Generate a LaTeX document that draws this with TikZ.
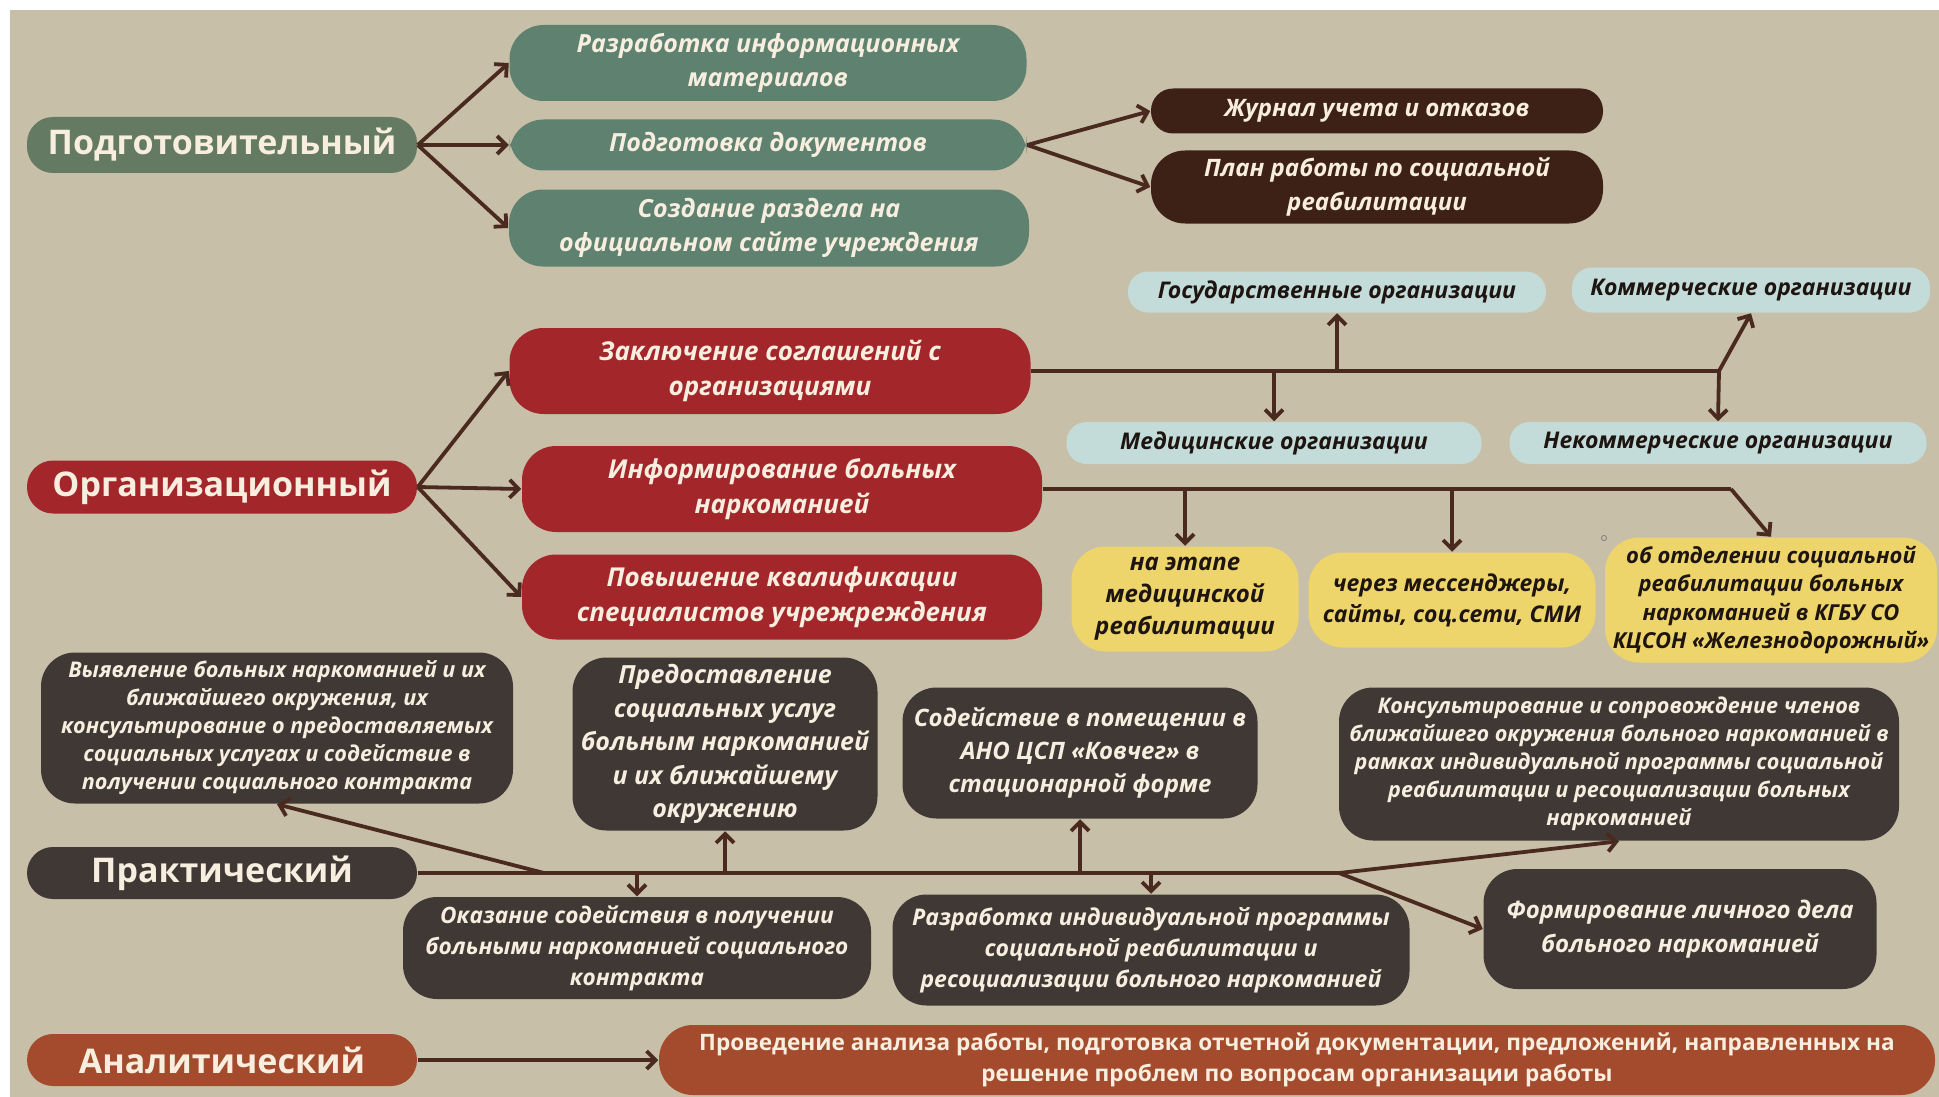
\documentclass[tikz,border=0pt]{standalone}
\usepackage{fontspec}
\setmainfont{Open Sans}
\usetikzlibrary{arrows.meta}

\definecolor{bgbeige}{HTML}{C8BFA9}
\definecolor{hdgreen}{HTML}{657A62}
\definecolor{subgreen}{HTML}{5E8170}
\definecolor{darkbrown}{HTML}{3D2116}
\definecolor{orgred}{HTML}{A3272A}
\definecolor{lightblue}{HTML}{C3DCDA}
\definecolor{softyellow}{HTML}{EDD56B}
\definecolor{darkgray}{HTML}{3F3835}
\definecolor{rust}{HTML}{A44B2D}
\definecolor{arrowbrown}{HTML}{4A2A1E}
\definecolor{cream}{HTML}{F7EEDF}
\definecolor{inkdark}{HTML}{1E1410}

\tikzset{every picture/.style={line width=0.75pt}}
\tikzset{
  sz/.style 2 args={minimum width=#1*0.5pt,minimum height=#2*0.5pt},
  txt/.style 2 args={font=\bfseries\itshape\fontsize{#1}{#2}\selectfont},
  base/.style={inner sep=0pt,align=center,text=cream},
  stage/.style={base,rounded corners=13pt,font=\bfseries\fontsize{17}{21}\selectfont},
  item/.style={base,rounded corners=17pt},
  kind/.style={base,rounded corners=10pt,text=inkdark,txt={11.5}{14}},
  way/.style={base,rounded corners=17pt,text=inkdark},
  ln/.style={draw=arrowbrown,line width=1.9pt},
  arr/.style={ln,-{Straight Barb[length=4.5pt,width=9pt]}},
}

\begin{document}
\begin{tikzpicture}[x=0.5pt,y=0.5pt,yscale=-1,xscale=1]
\useasboundingbox (0,0) rectangle (1939,1097);
\fill[white] (0,0) rectangle (1939,1097);
\fill[bgbeige] (10,10) rectangle (1939,1097);

% Stage 1
\node[stage,fill=hdgreen,sz={390}{56}] (prep) at (222,145) {Подготовительный};
\node[item,fill=subgreen,sz={517}{76},txt={12.5}{17.3}] (infomat) at (768,63) {Разработка информационных\\материалов};
\node[item,fill=subgreen,sz={517}{51},txt={12.5}{17.3}] (docs) at (768,145) {Подготовка документов};
\node[item,fill=subgreen,sz={520}{77},txt={12.5}{17.3}] (site) at (769,228) {Создание раздела на\\официальном сайте учреждения};
\node[item,fill=darkbrown,rounded corners=11pt,sz={452}{45},txt={12}{16.7}] (journal) at (1377,111) {Журнал учета и отказов};
\node[item,fill=darkbrown,sz={452}{73},txt={12}{16.7}] (plan) at (1377,187) {План работы по социальной\\реабилитации};

%Straight Lines
\draw[arr] (prep.east) -- (infomat.west);
\draw[arr] (prep.east) -- (docs.west);
\draw[arr] (prep.east) -- (site.west);
\draw[arr] (docs.east) -- (journal.west);
\draw[arr] (docs.east) -- (plan.west);

% Stage 2
\node[stage,fill=orgred,sz={390}{53}] (org) at (222,487) {Организационный};
\node[item,fill=orgred,sz={521}{86},txt={13}{17.3}] (agree) at (770,371) {Заключение соглашений с\\организациями};
\node[item,fill=orgred,sz={520}{86},txt={13}{17.3}] (inform) at (782,489) {Информирование больных\\наркоманией};
\node[item,fill=orgred,sz={520}{85},txt={13}{17.3}] (qual) at (782,597) {Повышение квалификации\\специалистов учрежреждения};

\node[kind,fill=lightblue,sz={418}{41}] (gos) at (1337,292) {Государственные организации};
\node[kind,fill=lightblue,sz={358}{45}] (kom) at (1751,290) {Коммерческие организации};
\node[kind,fill=lightblue,sz={415}{42}] (med) at (1274,443) {Медицинские организации};
\node[kind,fill=lightblue,sz={417}{42}] (nekom) at (1718,443) {Некоммерческие организации};

\node[way,fill=softyellow,sz={227}{105},txt={12}{16}] (stage) at (1185,599) {на этапе\\медицинской\\реабилитации};
\node[way,fill=softyellow,sz={287}{95},txt={11.5}{15.5}] (media) at (1452,600) {через мессенджеры,\\сайты, соц.сети, СМИ};
\node[way,fill=softyellow,sz={332}{125},txt={11}{14.2}] (dept) at (1771,600) {об отделении социальной\\реабилитации больных\\наркоманией в КГБУ СО\\КЦСОН «Железнодорожный»};

\coordinate (aj) at (1719,371);
\coordinate (ij) at (1731,489);

%Straight Lines
\draw[arr] (org.east) -- (agree.west);
\draw[arr] (org.east) -- (inform.west);
\draw[arr] (org.east) -- (qual.west);
\draw[ln] (agree.east) -- (aj);
\draw[arr] (gos.south |- aj) -- (gos.south);
\draw[arr] (med.north |- aj) -- (med.north);
\draw[arr] (aj) -- (nekom.north);
\draw[arr] (aj) -- (kom.south);
\draw[ln] (inform.east) -- (ij);
\draw[arr] (stage.north |- ij) -- (stage.north);
\draw[arr] (media.north |- ij) -- (media.north);
\draw[arr] (ij) -- (dept.north);
\draw[gray,line width=0.4pt] (1604,538) circle[radius=1.3pt];

% Stage 3
\node[stage,fill=darkgray,sz={390}{52}] (prac) at (222,873) {Практический};
\node[item,fill=darkgray,sz={472}{151},txt={10.8}{14}] (detect) at (277,728) {Выявление больных наркоманией и их\\ближайшего окружения, их\\консультирование о предоставляемых\\социальных услугах и содействие в\\получении социального контракта};
\node[item,fill=darkgray,sz={305}{173},txt={12.5}{16.7}] (services) at (725,744) {Предоставление\\социальных услуг\\больным наркоманией\\и их ближайшему\\окружению};
\node[item,fill=darkgray,sz={468}{102},txt={11.3}{15.5}] (contract) at (637,948) {Оказание содействия в получении\\больными наркоманией социального\\контракта};
\node[item,fill=darkgray,sz={355}{131},txt={12}{16.7}] (ark) at (1080,753) {Содействие в помещении в\\АНО ЦСП «Ковчег» в\\стационарной форме};
\node[item,fill=darkgray,sz={517}{111},txt={11.5}{15.5}] (program) at (1151,950) {Разработка индивидуальной программы\\социальной реабилитации и\\ресоциализации больного наркоманией};
\node[item,fill=darkgray,sz={560}{153},txt={10.8}{14}] (consult) at (1619,764) {Консультирование и сопровождение членов\\ближайшего окружения больного наркоманией в\\рамках индивидуальной программы социальной\\реабилитации и ресоциализации больных\\наркоманией};
\node[item,fill=darkgray,sz={393}{120},txt={12}{17}] (file) at (1680,929) {Формирование личного дела\\больного наркоманией};

\coordinate (pv) at (544,873);
\coordinate (pj) at (1339,873);

%Straight Lines
\draw[ln] (prac.east) -- (pj);
\draw[arr] (pv) -- (detect.south);
\draw[arr] (services.south |- pj) -- (services.south);
\draw[arr] (contract.north |- pj) -- (contract.north);
\draw[arr] (ark.south |- pj) -- (ark.south);
\draw[arr] (program.north |- pj) -- (program.north);
\draw[arr] (pj) -- (consult.south);
\draw[arr] (pj) -- (file.west);

% Stage 4
\node[stage,fill=rust,sz={390}{52}] (anal) at (222,1060) {Аналитический};
\node[item,fill=rust,sz={1276}{70},font=\bfseries\fontsize{11.3}{15.5}\selectfont] (report) at (1297,1060) {Проведение анализа работы, подготовка отчетной документации, предложений, направленных на\\решение проблем по вопросам организации работы};

%Straight Lines
\draw[arr] (anal.east) -- (report.west);

\end{tikzpicture}
\end{document}
